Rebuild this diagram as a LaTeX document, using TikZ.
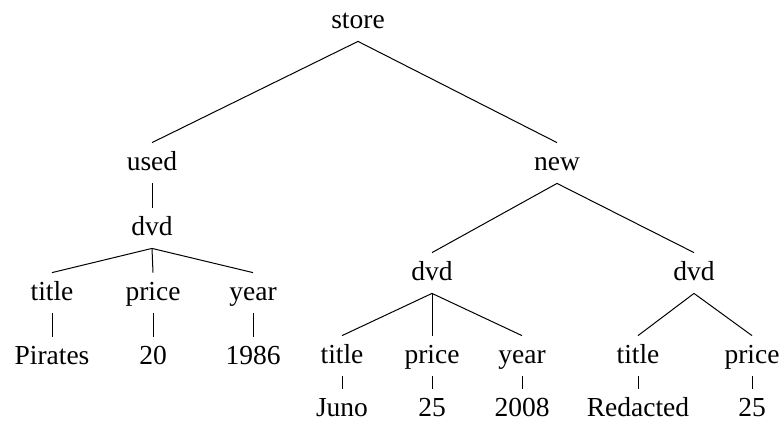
\documentclass[tikz,border=0pt]{standalone}
\usepackage{fontspec}
\setmainfont{Liberation Serif}
\usepackage{tikz}

\tikzset{
    lbl/.style={anchor=base, inner sep=3.5pt, text height=10pt, text depth=3pt, font=\fontsize{13.75}{16}\selectfont},
    edge/.style={line width=0.5pt}
}

\begin{document}
\begin{tikzpicture}[x=0.5pt, y=-0.5pt]
                \useasboundingbox (0, 0) rectangle (781, 425);
                \node[lbl] (store) at (358, 28){store};

                \node[lbl] (used) at (152, 170){used};
                \node[lbl] (new) at (557, 170){new};

                \node[lbl] (dvd1) at (152, 235){dvd};
                \node[lbl] (title1) at (52, 300){title};
                \node[lbl] (price1) at (153, 300){price};
                \node[lbl] (year1) at (253, 300){year};
                \node[lbl] (val1) at (52, 364){Pirates};
                \node[lbl] (val2) at (153, 364){20};
                \node[lbl] (val3) at (253, 364){1986};

                \node[lbl] (dvd2) at (432, 280){dvd};
                \node[lbl] (title2) at (342, 363){title};
                \node[lbl] (price2) at (432, 363){price};
                \node[lbl] (year2) at (522, 363){year};
                \node[lbl] (val4) at (342, 416){Juno};
                \node[lbl] (val5) at (432, 416){25};
                \node[lbl] (val6) at (522, 416){2008};

                \node[lbl] (dvd3) at (694, 280){dvd};
                \node[lbl] (title3) at (638, 363){title};
                \node[lbl] (price3) at (752, 363){price};
                \node[lbl] (val7) at (638, 416){Redacted};
                \node[lbl] (val8) at (752, 416){25};

                % edges
                \draw[edge] (store.south) -- (used.north);
                \draw[edge] (store.south) -- (new.north);
                \draw[edge] (used.south) -- (dvd1.north);
                \foreach \c in {title1, price1, year1}
                    \draw[edge] (dvd1.south) -- (\c.north);
                \draw[edge] (title1.south) -- (val1.north);
                \draw[edge] (price1.south) -- (val2.north);
                \draw[edge] (year1.south) -- (val3.north);
                \draw[edge] (new.south) -- (dvd2.north);
                \draw[edge] (new.south) -- (dvd3.north);
                \foreach \c in {title2, price2, year2}
                    \draw[edge] (dvd2.south) -- (\c.north);
                \draw[edge] (title2.south) -- (val4.north);
                \draw[edge] (price2.south) -- (val5.north);
                \draw[edge] (year2.south) -- (val6.north);
                \draw[edge] (dvd3.south) -- (title3.north);
                \draw[edge] (dvd3.south) -- (price3.north);
                \draw[edge] (title3.south) -- (val7.north);
                \draw[edge] (price3.south) -- (val8.north);
\end{tikzpicture}
\end{document}
